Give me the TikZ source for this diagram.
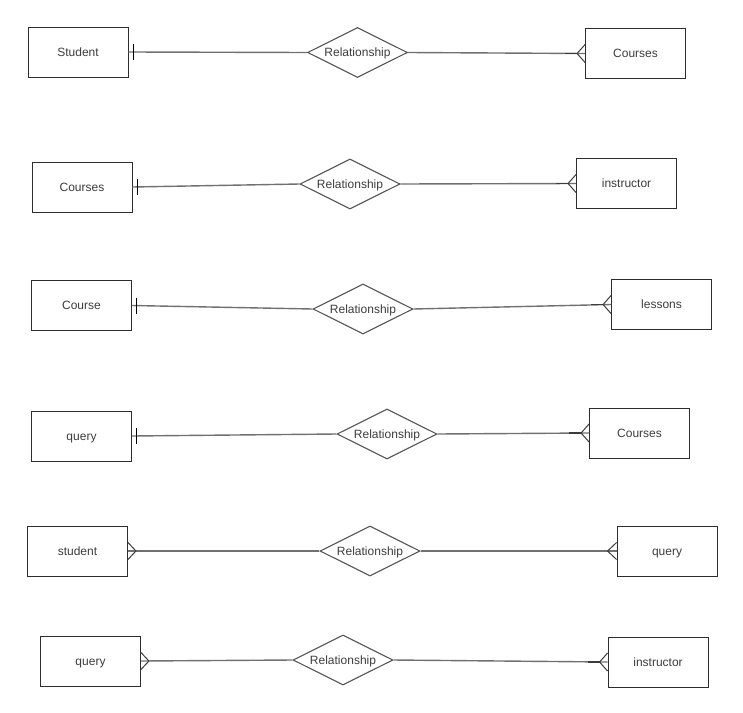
\documentclass[tikz,border=0pt]{standalone}
\usepackage{fontspec}
\setmainfont{Liberation Sans}
\usetikzlibrary{shapes.geometric}
\definecolor{edgegray}{RGB}{112,112,112}
\definecolor{boxline}{RGB}{45,45,45}
\definecolor{relline}{RGB}{85,85,85}
\definecolor{labelgray}{RGB}{60,60,60}
\definecolor{footdark}{RGB}{60,60,60}
\tikzset{
  entity/.style={draw=boxline, line width=0.9pt, minimum width=100pt, minimum height=50pt,
    inner sep=0pt, text height=8.6pt, text depth=0pt, text=labelgray, font=\fontsize{12}{14}\selectfont},
  rel/.style={diamond, shape aspect=2, draw=relline, line width=1.1pt, minimum width=100pt, minimum height=50pt,
    inner sep=0pt, text height=8.6pt, text depth=0pt, text=labelgray, font=\fontsize{12}{14}\selectfont},
  link/.style={draw=edgegray, line width=1.4pt},
  tickmark/.style={draw=black, line width=1pt},
  crow/.style={draw=footdark, line width=1pt, line join=miter},
  crowstem/.style={draw=footdark, line width=1.6pt}
}
% one-mark: short bar just beside the east side of an entity
\newcommand\oneat[1]{\draw[tickmark] ([xshift=5pt,yshift=8pt]#1.east) -- ([xshift=5pt,yshift=-8pt]#1.east);}
% many-mark entering an entity from the west
\newcommand\manywest[1]{%
  \draw[crowstem] ([xshift=-20pt]#1.west) -- ([xshift=-8pt]#1.west);
  \draw[crow] ([yshift=9pt]#1.west) -- ([xshift=-8pt]#1.west) -- ([yshift=-9pt]#1.west);}
% many-mark entering an entity from the east
\newcommand\manyeast[1]{%
  \draw[crow] ([yshift=8.5pt]#1.east) -- ([xshift=8pt]#1.east) -- ([yshift=-8.5pt]#1.east);}
\begin{document}
\begin{tikzpicture}[x=1pt,y=-1pt]
\useasboundingbox (0,0) rectangle (743,712);

% row 1
\node[entity] (e1a) at (78,52) {Student};
\node[rel]    (r1)  at (357.5,52.5) {Relationship};
\node[entity] (e1b) at (635.5,53.5) {Courses};
\draw[link] (e1a.east) -- (r1.west);
\draw[link] (r1.east) -- (e1b.west);
\oneat{e1a}
\manywest{e1b}

% row 2
\node[entity] (e2a) at (82,187) {Courses};
\node[rel]    (r2)  at (350,184) {Relationship};
\node[entity] (e2b) at (626.5,183.5) {instructor};
\draw[link] (e2a.east) -- (r2.west);
\draw[link] (r2.east) -- (e2b.west);
\oneat{e2a}
\manywest{e2b}

% row 3
\node[entity] (e3a) at (81.5,305.5) {Course};
\node[rel]    (r3)  at (363,309) {Relationship};
\node[entity] (e3b) at (661.5,304.5) {lessons};
\draw[link] (e3a.east) -- (r3.west);
\draw[link] (r3.east) -- (e3b.west);
\oneat{e3a}
\manywest{e3b}

% row 4
\node[entity] (e4a) at (81.5,436) {query};
\node[rel]    (r4)  at (387,434) {Relationship};
\node[entity] (e4b) at (639.5,433) {Courses};
\draw[link] (e4a.east) -- (r4.west);
\draw[link] (r4.east) -- (e4b.west);
\oneat{e4a}
\manywest{e4b}

% row 5
\node[entity] (e5a) at (77.5,551) {student};
\node[rel]    (r5)  at (370,551) {Relationship};
\node[entity] (e5b) at (667,551) {query};
\draw[link] (e5a.east) -- (r5.west);
\draw[link] (r5.east) -- (e5b.west);
\manyeast{e5a}
\draw[crow] ([yshift=8.5pt]e5b.west) -- ([xshift=-9pt]e5b.west) -- ([yshift=-8.5pt]e5b.west);

% row 6
\node[entity] (e6a) at (90.5,661) {query};
\node[rel]    (r6)  at (343,660) {Relationship};
\node[entity] (e6b) at (658,662) {instructor};
\draw[link] (e6a.east) -- (r6.west);
\draw[link] (r6.east) -- (e6b.west);
\manyeast{e6a}
\manywest{e6b}
\end{tikzpicture}
\end{document}
